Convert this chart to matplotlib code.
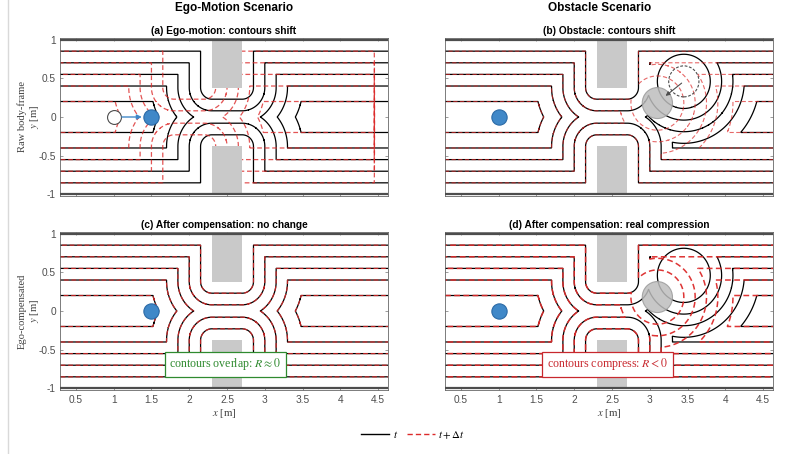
import numpy as np
import matplotlib
matplotlib.use("Agg")
import matplotlib.pyplot as plt
from matplotlib.patches import Rectangle, Ellipse
from matplotlib.lines import Line2D

# ---------------- data ----------------
contour_levels = [0.15, 0.30, 0.45, 0.60, 0.80]   # distance-field contour levels [m]
wall_y = [-1.0, 1.0]                               # corridor walls
rect_x = [2.3, 2.7]                                # doorway pillars (x extent)
rect_top_y = [0.38, 1.0]
rect_bot_y = [-1.0, -0.38]
domain_x = [0.0, 4.95]                             # extent of the mapped field
robot_ego_x = [1.0, 1.5]                           # robot x at t and t+dt (ego scenario)
robot_obs_x = [1.0]                                # robot x (obstacle scenario)
robot_y = [0.0]
obstacle_t = [3.45, 0.46]                          # moving obstacle centre at t
obstacle_dt = [3.10, 0.18]                         # moving obstacle centre at t+dt
obstacle_r = [0.2]
box_xy = [2.48, -0.69]
xticks = [0.5, 1.0, 1.5, 2.0, 2.5, 3.0, 3.5, 4.0, 4.5]
xtick_labels = ["0.5", "1", "1.5", "2", "2.5", "3", "3.5", "4", "4.5"]
yticks = [-1.0, -0.5, 0.0, 0.5, 1.0]
ytick_labels = ["-1", "-0.5", "0", "0.5", "1"]
xlim = [0.29, 4.63]
ylim = [-1.02, 1.02]

titles = ["(a) Ego-motion: contours shift", "(b) Obstacle: contours shift",
          "(c) After compensation: no change", "(d) After compensation: real compression"]
col_titles = ["Ego-Motion Scenario", "Obstacle Scenario"]
row_labels = ["Raw body-frame\n$y$ [m]", "Ego-compensated\n$y$ [m]"]

# ---------------- style ----------------
plt.rcParams["mathtext.fontset"] = "stix"
SANS = "Liberation Sans"
SERIF = "Liberation Serif"
RED = "#dc2a2a"
BLUE = "#4088c8"
GRAY = "#c9c9c9"
DASH = (0, (3.8, 2.2))


def dist_field(X, Y, circle=None):
    d = np.minimum(Y - wall_y[0], wall_y[1] - Y)
    for (y0, y1) in (rect_top_y, rect_bot_y):
        dx = np.maximum(np.maximum(rect_x[0] - X, X - rect_x[1]), 0.0)
        dy = np.maximum(np.maximum(y0 - Y, Y - y1), 0.0)
        d = np.minimum(d, np.hypot(dx, dy))
    if circle is not None:
        d = np.minimum(d, np.hypot(X - circle[0], Y - circle[1]) - obstacle_r[0])
    d = np.where((X < domain_x[0]) | (X > domain_x[1]), 0.0, d)
    return d


xs = np.linspace(0.2, 4.8, 1151)
ys = np.linspace(wall_y[0], wall_y[1], 501)
X, Y = np.meshgrid(xs, ys)
shift = robot_ego_x[1] - robot_ego_x[0]

F_static = dist_field(X, Y)
F_ego_dt = dist_field(X + shift, Y)
F_obs_t = dist_field(X, Y, obstacle_t)
F_obs_dt = dist_field(X, Y, obstacle_dt)

W, H = 808, 454
fig = plt.figure(figsize=(W / 100, H / 100), dpi=100)


def px_axes(x0, x1, y0, y1):
    return fig.add_axes([x0 / W, 1 - y1 / H, (x1 - x0) / W, (y1 - y0) / H])


cols = [(60, 388), (445, 773)]
rows = [(38, 196), (232, 390)]
axes = [[px_axes(*cols[c], *rows[r]) for c in range(2)] for r in range(2)]


def base(ax, r, c):
    ax.set_xlim(xlim)
    ax.set_ylim(ylim)
    ax.set_xticks(xticks)
    ax.set_yticks(yticks)
    if r == 1:
        ax.set_xticklabels(xtick_labels, fontsize=7.3, family=SANS, color="0.3")
        ax.set_xlabel("$x$ [m]", fontsize=7.8, family=SERIF, labelpad=1.5, color="0.25")
    else:
        ax.set_xticklabels([])
    if c == 0:
        ax.set_yticklabels(ytick_labels, fontsize=7.3, family=SANS, color="0.3")
    else:
        ax.set_yticklabels([])
    ax.tick_params(direction="in", top=True, right=True, length=2.5, width=0.5,
                   color="0.45", pad=3.5)
    ax.tick_params(axis="y", pad=3)
    for s in ax.spines.values():
        s.set_linewidth(0.6)
        s.set_color("0.4")
    ax.set_title(titles[2 * r + c], fontsize=7.3, family=SANS, fontweight="bold", pad=3)
    for yw in wall_y:
        ax.axhline(yw, color="0.3", lw=1.6, zorder=4)
    for (y0, y1) in (rect_top_y, rect_bot_y):
        ax.add_patch(Rectangle((rect_x[0], y0), rect_x[1] - rect_x[0], y1 - y0,
                               facecolor=GRAY, edgecolor="none", zorder=3))


def draw(ax, Fb, Fr, lw_r=0.9, alpha_r=1.0):
    ax.contour(X, Y, Fb, levels=contour_levels, colors="k", linewidths=0.9, zorder=2)
    cs = ax.contour(X, Y, Fr, levels=contour_levels, colors=RED, linewidths=lw_r,
                    alpha=alpha_r, zorder=2.5)
    cs.set_linestyle(DASH)


def robot(ax, x, ms=11):
    ax.plot([x], robot_y, "o", ms=ms, mfc=BLUE, mec="#2b6aa6", mew=0.8, zorder=6)


# (a) ego motion raw
ax = axes[0][0]
base(ax, 0, 0)
draw(ax, F_static, F_ego_dt, alpha_r=0.8)
ax.plot([robot_ego_x[0]], robot_y, "o", ms=10, mfc="white", mec="0.3", mew=0.8, zorder=6)
robot(ax, robot_ego_x[1])
ax.annotate("", xy=(robot_ego_x[1] - 0.09, robot_y[0]), xytext=(robot_ego_x[0] + 0.07, robot_y[0]),
            arrowprops=dict(arrowstyle="-|>", color=BLUE, lw=1.0, mutation_scale=7), zorder=6)

# (c) ego compensated
ax = axes[1][0]
base(ax, 1, 0)
draw(ax, F_static, F_static, alpha_r=0.85)
robot(ax, robot_ego_x[1])
ax.text(box_xy[0], box_xy[1], r"contours overlap: $R \approx 0$", fontsize=8.6, family=SERIF,
        color="#2f8a2f", ha="center", va="center", zorder=7,
        bbox=dict(boxstyle="square,pad=0.4", fc="white", ec="#2f8a2f", lw=0.9))

# (b) obstacle raw
ax = axes[0][1]
base(ax, 0, 1)
draw(ax, F_obs_t, F_obs_dt, lw_r=0.8, alpha_r=0.7)
robot(ax, robot_obs_x[0])
ax.add_patch(Ellipse(obstacle_t, 2 * obstacle_r[0], 2 * obstacle_r[0], fill=False,
                     ls=(0, (2.5, 1.5)), lw=0.8, ec="0.3", zorder=5))
ax.add_patch(Ellipse(obstacle_dt, 2 * obstacle_r[0], 2 * obstacle_r[0], fc="#bdbdbd",
                     ec="#9a9a9a", lw=0.8, alpha=0.85, zorder=5))
ax.annotate("", xy=(obstacle_dt[0] + 0.08, obstacle_dt[1] + 0.07), xytext=tuple(obstacle_t),
            arrowprops=dict(arrowstyle="-|>", color="0.3", lw=0.8, mutation_scale=6), zorder=6)

# (d) obstacle compensated
ax = axes[1][1]
base(ax, 1, 1)
draw(ax, F_obs_t, F_obs_dt, lw_r=1.1, alpha_r=0.95)
robot(ax, robot_obs_x[0])
ax.add_patch(Ellipse(obstacle_dt, 2 * obstacle_r[0], 2 * obstacle_r[0], fc="#bdbdbd",
                     ec="#9a9a9a", lw=0.8, alpha=0.85, zorder=5))
ax.text(box_xy[0] - 0.04, box_xy[1], r"contours compress: $R < 0$", fontsize=8.6, family=SERIF,
        color="#c8282e", ha="center", va="center", zorder=7,
        bbox=dict(boxstyle="square,pad=0.4", fc="white", ec="#c8282e", lw=0.9))

# column titles and row labels
fig.text(234 / W, 1 - 8 / H, col_titles[0], fontsize=8.5, family=SANS, fontweight="bold",
         ha="center", va="center")
fig.text(600 / W, 1 - 8 / H, col_titles[1], fontsize=8.5, family=SANS, fontweight="bold",
         ha="center", va="center")
for r in range(2):
    yc = (rows[r][0] + rows[r][1]) / 2
    fig.text(29 / W, 1 - yc / H, row_labels[r], rotation=90, fontsize=7.6, family=SERIF,
             ha="center", va="center", multialignment="center", color="0.25",
             linespacing=1.15)

# legend
handles = [Line2D([], [], color="k", lw=1.0),
           Line2D([], [], color=RED, lw=1.0, ls=DASH)]
fig.legend(handles, ["$t$", r"$t+\Delta t$"], loc="center", bbox_to_anchor=(413 / W, 1 - 435 / H),
           ncol=2, frameon=False, fontsize=7.8, handlelength=2.6, columnspacing=0.8,
           handletextpad=0.3)

# faint frame line at the left of the screenshot
fig.add_artist(Line2D([7.5 / W, 7.5 / W], [0, 1], color="0.85", lw=1.0))

fig.savefig("out.png", dpi=100, facecolor="white")
